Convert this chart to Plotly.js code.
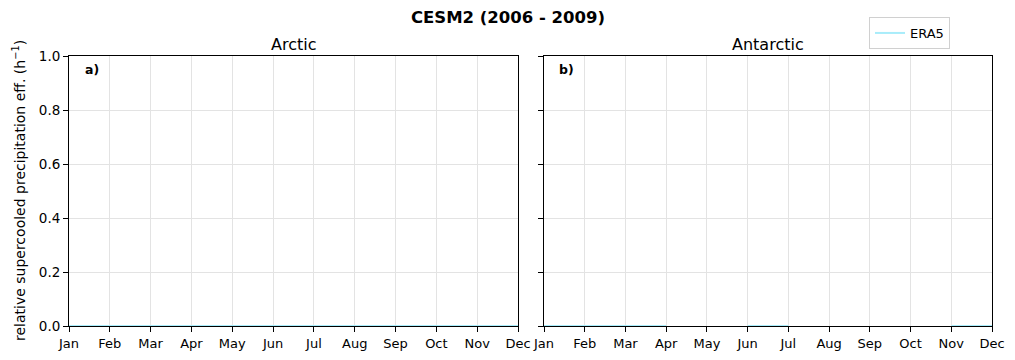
<!DOCTYPE html>
<html>
<head>
<meta charset="utf-8">
<script src="https://cdn.plot.ly/plotly-3.0.1.min.js"></script>
<style>html,body{margin:0;padding:0;background:#fff;}#chart{width:1015px;height:360px;}</style>
</head>
<body>
<div id="chart"></div>
<script>
// Data
const months = ["Jan","Feb","Mar","Apr","May","Jun","Jul","Aug","Sep","Oct","Nov","Dec"];
const monthIndex = [0,1,2,3,4,5,6,7,8,9,10,11];
const era5Arctic = [0,0,0,0,0,0,0,0,0,0,0,0];
const era5Antarctic = [0,0,0,0,null,0,0,null,null,null,0,0];
const yTicks = [0,0.2,0.4,0.6,0.8,1.0];
const yTickLabels = ["0.0","0.2","0.4","0.6","0.8","1.0"];

const W = 1015, H = 360;
const px = v => v / W;
const py = v => 1 - v / H;
const FONT = "DejaVu Sans, sans-serif";
const lineColor = "#a8ecfa";

const traces = [
  {x: monthIndex, y: era5Arctic, type: "scatter", mode: "lines", name: "ERA5",
   line: {color: lineColor, width: 2}, xaxis: "x", yaxis: "y", connectgaps: false, showlegend: true},
  {x: monthIndex, y: era5Antarctic, type: "scatter", mode: "lines", name: "ERA5",
   line: {color: lineColor, width: 2}, xaxis: "x2", yaxis: "y2", connectgaps: false, showlegend: false}
];

const xBase = {
  range: [0, 11], tickmode: "array", tickvals: monthIndex, ticktext: months,
  showgrid: true, gridcolor: "#e3e3e3", gridwidth: 1,
  showline: true, linecolor: "#000", linewidth: 1, mirror: true,
  ticks: "outside", ticklen: 5, tickcolor: "#000", tickwidth: 1,
  tickfont: {family: FONT, size: 13, color: "#000"}, zeroline: false, fixedrange: true
};
const yBase = {
  range: [0, 1], tickmode: "array", tickvals: yTicks, ticktext: yTickLabels,
  showgrid: true, gridcolor: "#e3e3e3", gridwidth: 1,
  showline: true, linecolor: "#000", linewidth: 1, mirror: true,
  ticks: "outside", ticklen: 5, tickcolor: "#000", tickwidth: 1,
  tickfont: {family: FONT, size: 13.5, color: "#000"}, zeroline: false, fixedrange: true,
  domain: [1 - 326 / H, 1 - 56 / H]
};

const layout = {
  width: W, height: H,
  margin: {l: 0, r: 0, t: 0, b: 0},
  paper_bgcolor: "#fff", plot_bgcolor: "#fff",
  font: {family: FONT, size: 13, color: "#000"},
  title: {text: "<b>CESM2 (2006 - 2009)</b>", font: {family: FONT, size: 16.5, color: "#000"},
          x: 508 / W, xanchor: "center", y: py(17), yanchor: "middle", xref: "paper", yref: "container"},
  xaxis: Object.assign({}, xBase, {domain: [px(69), px(518)], anchor: "y"}),
  yaxis: Object.assign({}, yBase, {anchor: "x"}),
  xaxis2: Object.assign({}, xBase, {domain: [px(544), px(992)], anchor: "y2"}),
  yaxis2: Object.assign({}, yBase, {anchor: "x2", showticklabels: false}),
  showlegend: true,
  legend: {x: px(869), y: py(17), xanchor: "left", yanchor: "top",
           bgcolor: "rgba(255,255,255,0.8)", bordercolor: "#d0d0d0", borderwidth: 1,
           font: {family: FONT, size: 13, color: "#000"}, itemwidth: 30},
  annotations: [
    {text: "Arctic", x: (px(69) + px(518)) / 2, y: py(44), xref: "paper", yref: "paper",
     xanchor: "center", yanchor: "middle", showarrow: false, font: {family: FONT, size: 16, color: "#000"}},
    {text: "Antarctic", x: (px(544) + px(992)) / 2, y: py(44), xref: "paper", yref: "paper",
     xanchor: "center", yanchor: "middle", showarrow: false, font: {family: FONT, size: 16, color: "#000"}},
    {text: "<b>a)</b>", x: px(83), y: py(70), xref: "paper", yref: "paper",
     xanchor: "left", yanchor: "middle", showarrow: false, font: {family: FONT, size: 12.5, color: "#000"}},
    {text: "<b>b)</b>", x: px(557), y: py(70), xref: "paper", yref: "paper",
     xanchor: "left", yanchor: "middle", showarrow: false, font: {family: FONT, size: 12.5, color: "#000"}},
    {text: "relative supercooled precipitation eff. (h<sup>−1</sup>)", x: px(19), y: py(191),
     xref: "paper", yref: "paper", xanchor: "center", yanchor: "middle", textangle: -90,
     showarrow: false, font: {family: FONT, size: 14, color: "#000"}}
  ]
};

Plotly.newPlot("chart", traces, layout, {displayModeBar: false, staticPlot: true});
</script>
</body>
</html>
